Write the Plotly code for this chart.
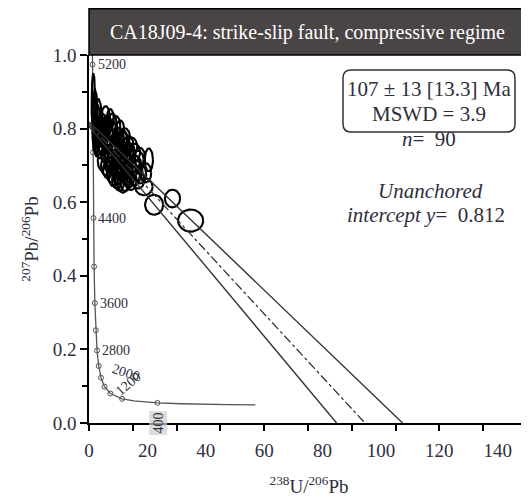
import numpy as np
import plotly.graph_objects as go

# ---------------- data (x in labelled 238U/206Pb units) ----------------
# Tera-Wasserburg concordia points
conc_x = [1.185, 1.209, 1.357, 1.532, 1.745, 2.005, 2.333, 2.757, 3.325, 4.124, 5.324,
          7.332, 11.35, 15.38, 23.43, 31.49, 47.6, 57.0]
conc_y = [1.000, 0.974, 0.735, 0.557, 0.425, 0.326, 0.252, 0.197, 0.155, 0.123, 0.0987,
          0.0801, 0.0658, 0.0599, 0.0547, 0.0523, 0.0501, 0.0493]
# age tick markers on the concordia (every 400 Ma)
mark_age = [5200, 4800, 4400, 4000, 3600, 3200, 2800, 2400, 2000, 1600, 1200, 800, 400]
mark_x = [1.209, 1.357, 1.532, 1.745, 2.005, 2.333, 2.757, 3.325, 4.124, 5.324, 7.332, 11.35, 23.43]
mark_y = [0.974, 0.735, 0.557, 0.425, 0.326, 0.252, 0.197, 0.155, 0.123, 0.0987, 0.0801, 0.0658, 0.0547]

# error ellipses: centre and half-widths
ell_x = [1.5, 2.1, 2.9, 1.8, 3.3, 2.5,
         3.6, 3.4, 3.8, 3.5,
         4.4, 4.6, 4.3, 4.5,
         5.6, 5.4, 5.8, 5.5, 5.7,
         6.4, 6.6, 6.3, 6.5, 6.2,
         7.6, 7.4, 7.8, 7.5, 7.7, 7.3,
         8.4, 8.6, 8.3, 8.5, 8.2,
         9.6, 9.4, 9.8, 9.5, 9.7, 9.3,
         10.4, 10.6, 10.3, 10.5, 10.2, 10.7,
         11.6, 11.4, 11.8, 11.5, 11.7,
         12.4, 12.6, 12.3, 12.5, 12.2,
         13.6, 13.4, 13.8, 13.5,
         14.4, 14.6, 14.3, 14.5,
         15.6, 15.4, 15.8,
         16.4, 16.6,
         17.6, 17.4,
         4.0, 6.0, 7.0, 9.0, 11.0, 12.0, 13.0, 14.0, 16.0, 10.0, 8.0,
         20.5, 18.8, 22.3, 28.6, 34.8, 16.8, 19.5]
ell_y = [0.865, 0.835, 0.805, 0.790, 0.825, 0.765,
         0.745, 0.772, 0.803, 0.832,
         0.712, 0.748, 0.785, 0.818,
         0.698, 0.728, 0.762, 0.797, 0.833,
         0.688, 0.722, 0.752, 0.781, 0.812,
         0.676, 0.708, 0.738, 0.772, 0.799, 0.826,
         0.667, 0.697, 0.731, 0.763, 0.792,
         0.660, 0.688, 0.718, 0.752, 0.781, 0.808,
         0.655, 0.684, 0.716, 0.743, 0.776, 0.801,
         0.651, 0.679, 0.709, 0.741, 0.771,
         0.654, 0.687, 0.716, 0.748, 0.778,
         0.664, 0.694, 0.727, 0.756,
         0.659, 0.691, 0.722, 0.751,
         0.671, 0.702, 0.736,
         0.686, 0.716,
         0.676, 0.721,
         0.762, 0.803, 0.701, 0.742, 0.702, 0.762, 0.703, 0.737, 0.701, 0.671, 0.817,
         0.715, 0.642, 0.593, 0.610, 0.550, 0.662, 0.680]
ell_sx = [0.6, 0.8, 0.9, 0.6, 1.0, 0.8,
          1.3, 1.2, 1.5, 1.1,
          1.4, 1.2, 1.6, 1.3,
          1.5, 1.3, 1.7, 1.2, 1.4,
          1.6, 1.4, 1.2, 1.8, 1.5,
          1.5, 1.3, 1.7, 1.4, 1.6, 1.2,
          1.6, 1.4, 1.8, 1.3, 1.5,
          1.7, 1.5, 1.3, 1.9, 1.6, 1.4,
          1.6, 1.8, 1.4, 1.5, 1.7, 1.3,
          1.8, 1.6, 1.4, 1.9, 1.5,
          1.7, 1.5, 1.9, 1.6, 1.8,
          1.8, 1.6, 2.0, 1.7,
          1.9, 1.7, 1.5, 2.0,
          1.8, 2.0, 1.7,
          1.9, 2.1,
          2.0, 1.8,
          1.3, 1.5, 1.4, 1.6, 1.7, 1.5, 1.8, 1.6, 1.9, 1.5, 1.4,
          1.4, 3.0, 3.1, 2.6, 4.3, 2.2, 1.8]
ell_sy = [0.085, 0.070, 0.060, 0.050, 0.055, 0.040,
          0.026, 0.022, 0.028, 0.024,
          0.025, 0.021, 0.027, 0.023,
          0.024, 0.020, 0.026, 0.022, 0.028,
          0.023, 0.025, 0.021, 0.027, 0.024,
          0.022, 0.026, 0.020, 0.025, 0.023, 0.027,
          0.024, 0.021, 0.026, 0.022, 0.025,
          0.023, 0.027, 0.021, 0.025, 0.022, 0.026,
          0.024, 0.022, 0.026, 0.023, 0.025, 0.021,
          0.025, 0.023, 0.027, 0.022, 0.024,
          0.024, 0.026, 0.022, 0.025, 0.023,
          0.025, 0.023, 0.027, 0.024,
          0.026, 0.024, 0.022, 0.025,
          0.025, 0.027, 0.023,
          0.026, 0.024,
          0.025, 0.027,
          0.024, 0.026, 0.023, 0.025, 0.022, 0.026, 0.024, 0.023, 0.025, 0.022, 0.024,
          0.031, 0.023, 0.027, 0.024, 0.030, 0.025, 0.026]

# regression line and its envelope (x, y end points)
reg_x = [0, 94.5]
reg_y = [0.812, 0.0]
env_up_x = [0, 107.4]
env_up_y = [0.818, 0.0]
env_lo_x = [0, 84.8]
env_lo_y = [0.806, 0.0]

x_label_vals = [0, 20, 40, 60, 80, 100, 120, 140]
x_tick_marks = [0, 15, 30, 45, 60, 75, 90, 105, 120, 135]
y_label_vals = [0.0, 0.2, 0.4, 0.6, 0.8, 1.0]
y_minor_vals = [0.1, 0.3, 0.5, 0.7, 0.9]

SERIF = "Liberation Serif"
TXT = "#2e2e3c"

# figure geometry (page body has an 8px margin)
W, H = 521, 492
ML, MT, MB = 81, 47, 77
PW, PH = W - ML, H - MT - MB   # 440 x 368

# ---------------- figure ----------------
fig = go.Figure()

fig.add_trace(go.Scatter(x=conc_x, y=conc_y, mode="lines",
                         line=dict(color="#555555", width=1.3), hoverinfo="skip", showlegend=False))
fig.add_trace(go.Scatter(x=mark_x, y=mark_y, mode="markers",
                         marker=dict(symbol="circle-open", size=5, color="#555555", line=dict(width=1)),
                         hoverinfo="skip", showlegend=False))

theta = np.linspace(0, 2 * np.pi, 60)
ex, ey = [], []
for cx, cy, sx, sy in zip(ell_x, ell_y, ell_sx, ell_sy):
    ex += list(cx + sx * np.cos(theta)) + [None]
    ey += list(cy + sy * np.sin(theta)) + [None]
fig.add_trace(go.Scatter(x=ex, y=ey, mode="lines", line=dict(color="black", width=2.1),
                         hoverinfo="skip", showlegend=False))

fig.add_trace(go.Scatter(x=env_up_x, y=env_up_y, mode="lines", line=dict(color="#333333", width=1.4),
                         hoverinfo="skip", showlegend=False))
fig.add_trace(go.Scatter(x=env_lo_x, y=env_lo_y, mode="lines", line=dict(color="#333333", width=1.4),
                         hoverinfo="skip", showlegend=False))
fig.add_trace(go.Scatter(x=reg_x, y=reg_y, mode="lines", line=dict(color="#333333", width=1.3, dash="dashdot"),
                         hoverinfo="skip", showlegend=False))
# invisible trace so the tick-mark axis is drawn
fig.add_trace(go.Scatter(x=[0], y=[0], xaxis="x2", mode="markers", marker=dict(opacity=0),
                         hoverinfo="skip", showlegend=False))

fig.update_layout(
    width=W, height=H,
    margin=dict(l=ML, r=0, t=MT, b=MB, autoexpand=False),
    paper_bgcolor="white", plot_bgcolor="white",
    showlegend=False,
    xaxis=dict(range=[0, 150.7], tickmode="array", tickvals=x_label_vals,
               ticktext=[str(v) for v in x_label_vals], automargin=False,
               ticks="outside", ticklen=9, tickcolor="rgba(0,0,0,0)",
               showline=True, linecolor="black", linewidth=1.5,
               showgrid=False, zeroline=False,
               tickfont=dict(family=SERIF, size=19, color=TXT),
               title=dict(text="<sup>238</sup>U/<sup>206</sup>Pb", standoff=20,
                          font=dict(family=SERIF, size=19, color=TXT))),
    xaxis2=dict(range=[0, 150.7], overlaying="x", anchor="y", side="bottom", automargin=False,
                tickmode="array", tickvals=x_tick_marks, ticks="outside", ticklen=7,
                tickwidth=1.5, tickcolor="black", showticklabels=False,
                showline=False, showgrid=False, zeroline=False),
    yaxis=dict(range=[0, 1.0], tickmode="array", tickvals=y_label_vals,
               ticktext=["%.1f" % v for v in y_label_vals], automargin=False,
               ticks="outside", ticklen=7, tickwidth=1.5, tickcolor="black",
               minor=dict(tickmode="array", tickvals=y_minor_vals, ticks="outside",
                          ticklen=5, tickwidth=1.5, tickcolor="black"),
               showline=True, linecolor="black", linewidth=1.5,
               showgrid=False, zeroline=False,
               tickfont=dict(family=SERIF, size=19, color=TXT),
               title=dict(text="<sup>207</sup>Pb/<sup>206</sup>Pb", standoff=9,
                          font=dict(family=SERIF, size=19, color=TXT))),
)

def px2paper(px, py):
    # window pixel -> paper coordinates
    return (px - 8 - ML) / PW, (8 + MT + PH - py) / PH

# title bar
tx0, ty1 = px2paper(89, 8)
tx1, ty0 = px2paper(527, 55)
fig.add_shape(type="rect", xref="paper", yref="paper", x0=tx0, x1=tx1, y0=ty0, y1=ty1 - 0.002,
              fillcolor="#4a4545", line=dict(color="black", width=1.5), layer="above")
cx_, cy_ = px2paper(307, 32)
fig.add_annotation(xref="paper", yref="paper", x=cx_, y=cy_, showarrow=False,
                   xanchor="center", yanchor="middle",
                   text="CA18J09-4: strike-slip fault, compressive regime",
                   font=dict(family=SERIF, size=20, color="white"))

# rounded result box
bx0, by1 = px2paper(343, 70)
bx1, by0 = px2paper(515, 132)
rx, ry = 8 / PW, 8 / PH
path = (f"M {bx0+rx},{by1} L {bx1-rx},{by1} Q {bx1},{by1} {bx1},{by1-ry} "
        f"L {bx1},{by0+ry} Q {bx1},{by0} {bx1-rx},{by0} L {bx0+rx},{by0} "
        f"Q {bx0},{by0} {bx0},{by0+ry} L {bx0},{by1-ry} Q {bx0},{by1} {bx0+rx},{by1} Z")
fig.add_shape(type="path", xref="paper", yref="paper", path=path,
              line=dict(color="#333333", width=1.5), fillcolor="white")

for txt, (px, py) in [("107 ± 13 [13.3] Ma", (429, 89)),
                      ("MSWD = 3.9", (429, 114)),
                      ("<i>n</i>=  90", (429, 139)),
                      ("<i>Unanchored</i>", (430, 191)),
                      ("<i>intercept y</i>=  0.812", (426, 215))]:
    xp, yp = px2paper(px, py)
    fig.add_annotation(xref="paper", yref="paper", x=xp, y=yp, showarrow=False, text=txt,
                       xanchor="center", yanchor="middle",
                       font=dict(family=SERIF, size=21, color=TXT))

# concordia age labels
for age, ax_, ay_ in [(5200, 1.209, 0.974), (4400, 1.532, 0.557),
                      (3600, 2.005, 0.326), (2800, 2.757, 0.197)]:
    fig.add_annotation(x=ax_, y=ay_, xref="x", yref="y", text=str(age), showarrow=False,
                       xanchor="left", yanchor="middle", xshift=3,
                       font=dict(family=SERIF, size=14, color=TXT))
fig.add_annotation(x=12.5, y=0.138, xref="x", yref="y", text="2000", showarrow=False,
                   textangle=18, font=dict(family=SERIF, size=14, color=TXT))
fig.add_annotation(x=13.5, y=0.108, xref="x", yref="y", text="1200", showarrow=False,
                   textangle=-40, font=dict(family=SERIF, size=14, color=TXT))
fig.add_annotation(x=23.5, y=0.0, xref="x", yref="y", text="400", showarrow=False,
                   textangle=-90, bgcolor="rgba(205,205,205,0.7)",
                   font=dict(family=SERIF, size=14, color=TXT))

fig.write_html("out.html")
